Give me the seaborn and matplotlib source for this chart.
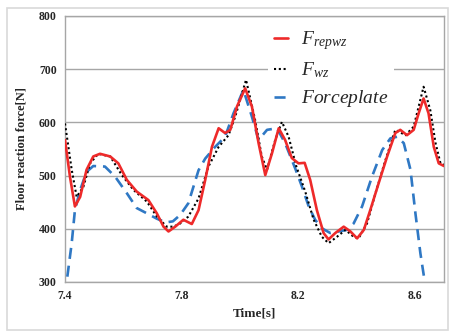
import matplotlib
matplotlib.use("Agg")
import matplotlib.pyplot as plt
import seaborn as sns
import pandas as pd
from matplotlib.patches import Rectangle

# ---- data ----
t_rep = [7.400, 7.417, 7.434, 7.452, 7.474, 7.497, 7.520, 7.555, 7.583, 7.612, 7.646,
         7.686, 7.715, 7.738, 7.755, 7.778, 7.806, 7.835, 7.858, 7.881, 7.904, 7.927,
         7.949, 7.967, 7.990, 8.018, 8.041, 8.064, 8.087, 8.110, 8.133, 8.155, 8.178,
         8.201, 8.222, 8.241, 8.264, 8.287, 8.304, 8.327, 8.356, 8.379, 8.402, 8.425,
         8.447, 8.476, 8.505, 8.533, 8.550, 8.573, 8.596, 8.613, 8.630, 8.647, 8.665,
         8.682, 8.700]
f_rep = [567, 498, 442, 460, 511, 536, 541, 536, 523, 492, 470,
         454, 429, 404, 395, 404, 417, 409, 435, 492, 554, 589,
         580, 586, 630, 664, 630, 561, 501, 542, 589, 567, 533,
         523, 524, 492, 435, 392, 380, 392, 404, 395, 382, 398,
         435, 486, 536, 580, 586, 576, 586, 617, 645, 617, 554,
         523, 518]

t_wz = [7.400, 7.423, 7.440, 7.463, 7.486, 7.514, 7.555, 7.595, 7.635, 7.681, 7.715,
        7.749, 7.772, 7.795, 7.823, 7.858, 7.892, 7.927, 7.961, 7.984, 8.021, 8.052,
        8.075, 8.093, 8.121, 8.144, 8.167, 8.193, 8.224, 8.253, 8.281, 8.304, 8.333,
        8.362, 8.390, 8.407, 8.436, 8.465, 8.499, 8.533, 8.568, 8.596, 8.630, 8.653,
        8.671, 8.688, 8.700]
f_wz = [598, 511, 460, 479, 523, 541, 536, 501, 473, 451, 423,
        404, 404, 410, 423, 457, 517, 554, 576, 611, 680, 605,
        536, 511, 567, 601, 573, 518, 470, 417, 385, 373, 385,
        398, 385, 382, 410, 467, 529, 586, 576, 592, 667, 623,
        561, 523, 520]

t_fp = [7.408, 7.423, 7.434, 7.452, 7.474, 7.497, 7.537, 7.572, 7.612, 7.646, 7.681,
        7.715, 7.745, 7.770, 7.795, 7.823, 7.858, 7.881, 7.915, 7.949, 7.978, 8.012,
        8.041, 8.064, 8.093, 8.127, 8.155, 8.190, 8.213, 8.236, 8.258, 8.281, 8.310,
        8.339, 8.367, 8.390, 8.419, 8.453, 8.488, 8.516, 8.539, 8.562, 8.585, 8.602,
        8.619, 8.633]
f_fp = [310, 373, 435, 473, 507, 518, 517, 498, 467, 439, 429,
        419, 412, 414, 426, 448, 510, 532, 554, 573, 617, 661,
        611, 567, 586, 589, 561, 513, 479, 442, 417, 401, 392,
        395, 398, 410, 442, 498, 548, 570, 573, 561, 511, 429,
        354, 304]

x_ticks = [7.4, 7.8, 8.2, 8.6]
y_ticks = [300, 400, 500, 600, 700, 800]

# ---- style ----
sns.set_style("white")
plt.rcParams['font.family'] = ['Liberation Serif', 'DejaVu Serif']
plt.rcParams['mathtext.fontset'] = 'custom'
plt.rcParams['mathtext.it'] = 'Liberation Serif:italic'
plt.rcParams['mathtext.rm'] = 'Liberation Serif'

fig = plt.figure(figsize=(4.51, 3.33), dpi=100)
ax = fig.add_axes([65/451, 1-282/333, (444-65)/451, (282-16)/333])

# outer light frame
fig.patches.append(Rectangle((7/451, 3/333), 441/451, 322/333, transform=fig.transFigure,
                             fill=False, edgecolor='#d9d9d9', lw=1.2))

grid_c = '#a6a6a6'
for y in y_ticks:
    ax.axhline(y, color=grid_c, lw=1, zorder=0)

df_rep = pd.DataFrame({'t': t_rep, 'f': f_rep})
df_wz = pd.DataFrame({'t': t_wz, 'f': f_wz})
df_fp = pd.DataFrame({'t': t_fp, 'f': f_fp})

sns.lineplot(data=df_fp, x='t', y='f', ax=ax, color='#2f78c4', lw=1.9,
             label='$Forceplate$', zorder=3)
ax.lines[-1].set_linestyle((0, (4.2, 2.6)))
sns.lineplot(data=df_wz, x='t', y='f', ax=ax, color='black', lw=1.5,
             label='$F_{wz}$', zorder=4)
ax.lines[-1].set_linestyle((0, (1, 1.3)))
sns.lineplot(data=df_rep, x='t', y='f', ax=ax, color='#ee2a2a', lw=1.9,
             label='$F_{repwz}$', zorder=5)
for ln in ax.lines:
    ln.set_solid_joinstyle('round')
    ln.set_dash_joinstyle('round')

ax.set_xlim(7.4, 8.70)
ax.set_ylim(300, 800)
ax.set_xticks(x_ticks)
ax.set_xticklabels([f"{v:.1f}" for v in x_ticks])
ax.set_yticks(y_ticks)
ax.tick_params(axis='both', length=0, labelsize=8.5, pad=6)
for lab in ax.get_xticklabels() + ax.get_yticklabels():
    lab.set_fontweight('bold')

for s in ax.spines.values():
    s.set_color(grid_c)
    s.set_linewidth(1)

ax.set_xlabel('Time[s]', fontsize=9.5, fontweight='bold', labelpad=4)
ax.set_ylabel('Floor reaction force[N]', fontsize=9, fontweight='bold', labelpad=8)

h, l = ax.get_legend_handles_labels()
order = [2, 1, 0]
leg = ax.legend([h[i] for i in order], [l[i] for i in order],
                loc='upper left', bbox_to_anchor=(258/451, 1-14/333),
                bbox_transform=fig.transFigure, fontsize=14,
                frameon=True, facecolor='white', edgecolor='none', framealpha=1,
                handlelength=0.75, handletextpad=0.65, labelspacing=0.42,
                borderpad=0.3)
leg.set_zorder(10)

fig.savefig('out.png', dpi=100)
